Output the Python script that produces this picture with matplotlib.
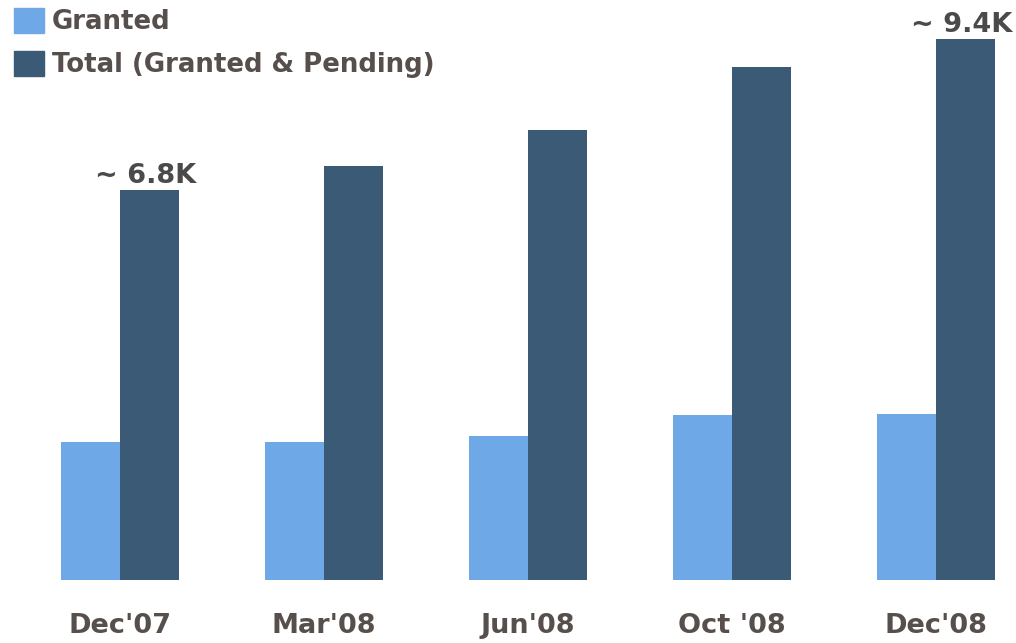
import numpy as np
import matplotlib
matplotlib.use('Agg')
import matplotlib.pyplot as plt
from matplotlib.patches import Patch

# data (thousands)
periods = ["Dec'07", "Mar'08", "Jun'08", "Oct '08", "Dec'08"]
granted = [2.41, 2.41, 2.51, 2.88, 2.90]
total = [6.8, 7.22, 7.85, 8.95, 9.43]
labels = {0: '~ 6.8K', 4: '~ 9.4K'}

c_granted = '#6fa8e6'
c_total = '#3b5a75'
c_text = '#574f4c'
c_note = '#4a4a4a'

W, H = 1016, 643
base_px = 580
px_per_k = 57.35
px_per_grp = 204
first_px = 120

fig = plt.figure(figsize=(W / 100, H / 100), dpi=100)
ax = fig.add_axes([0, (H - base_px) / H, 1, base_px / H])

x = np.arange(len(periods))
bw = 0.29
ax.bar(x - bw / 2, granted, width=bw, color=c_granted, label='Granted')
ax.bar(x + bw / 2, total, width=bw, color=c_total, label='Total (Granted & Pending)')

for i, txt in labels.items():
    ax.annotate(txt, (x[i] + bw / 2, total[i]), xytext=(-3, 1), textcoords='offset points',
                ha='center', va='bottom', fontsize=19.5, fontweight='bold', color=c_note)

ax.set_xlim(-first_px / px_per_grp, (W - first_px) / px_per_grp)
ax.set_ylim(0, base_px / px_per_k)
ax.set_xticks(x)
ax.set_xticklabels(periods, fontsize=19.5, fontweight='bold', color=c_text)
ax.tick_params(axis='x', length=0, pad=24)
ax.set_yticks([])
for s in ax.spines.values():
    s.set_visible(False)

handles = [Patch(color=c_granted, label='Granted'),
           Patch(color=c_total, label='Total (Granted & Pending)')]
leg = ax.legend(handles=handles, loc='upper left', bbox_to_anchor=(14 / W, 1.0 - 8 / base_px),
                frameon=False, fontsize=18.7, handlelength=1.15, handleheight=1.1,
                handletextpad=0.3, labelspacing=0.6, borderaxespad=0, borderpad=0)
for t in leg.get_texts():
    t.set_color(c_text)
    t.set_fontweight('bold')

fig.savefig('out.png', dpi=100)
